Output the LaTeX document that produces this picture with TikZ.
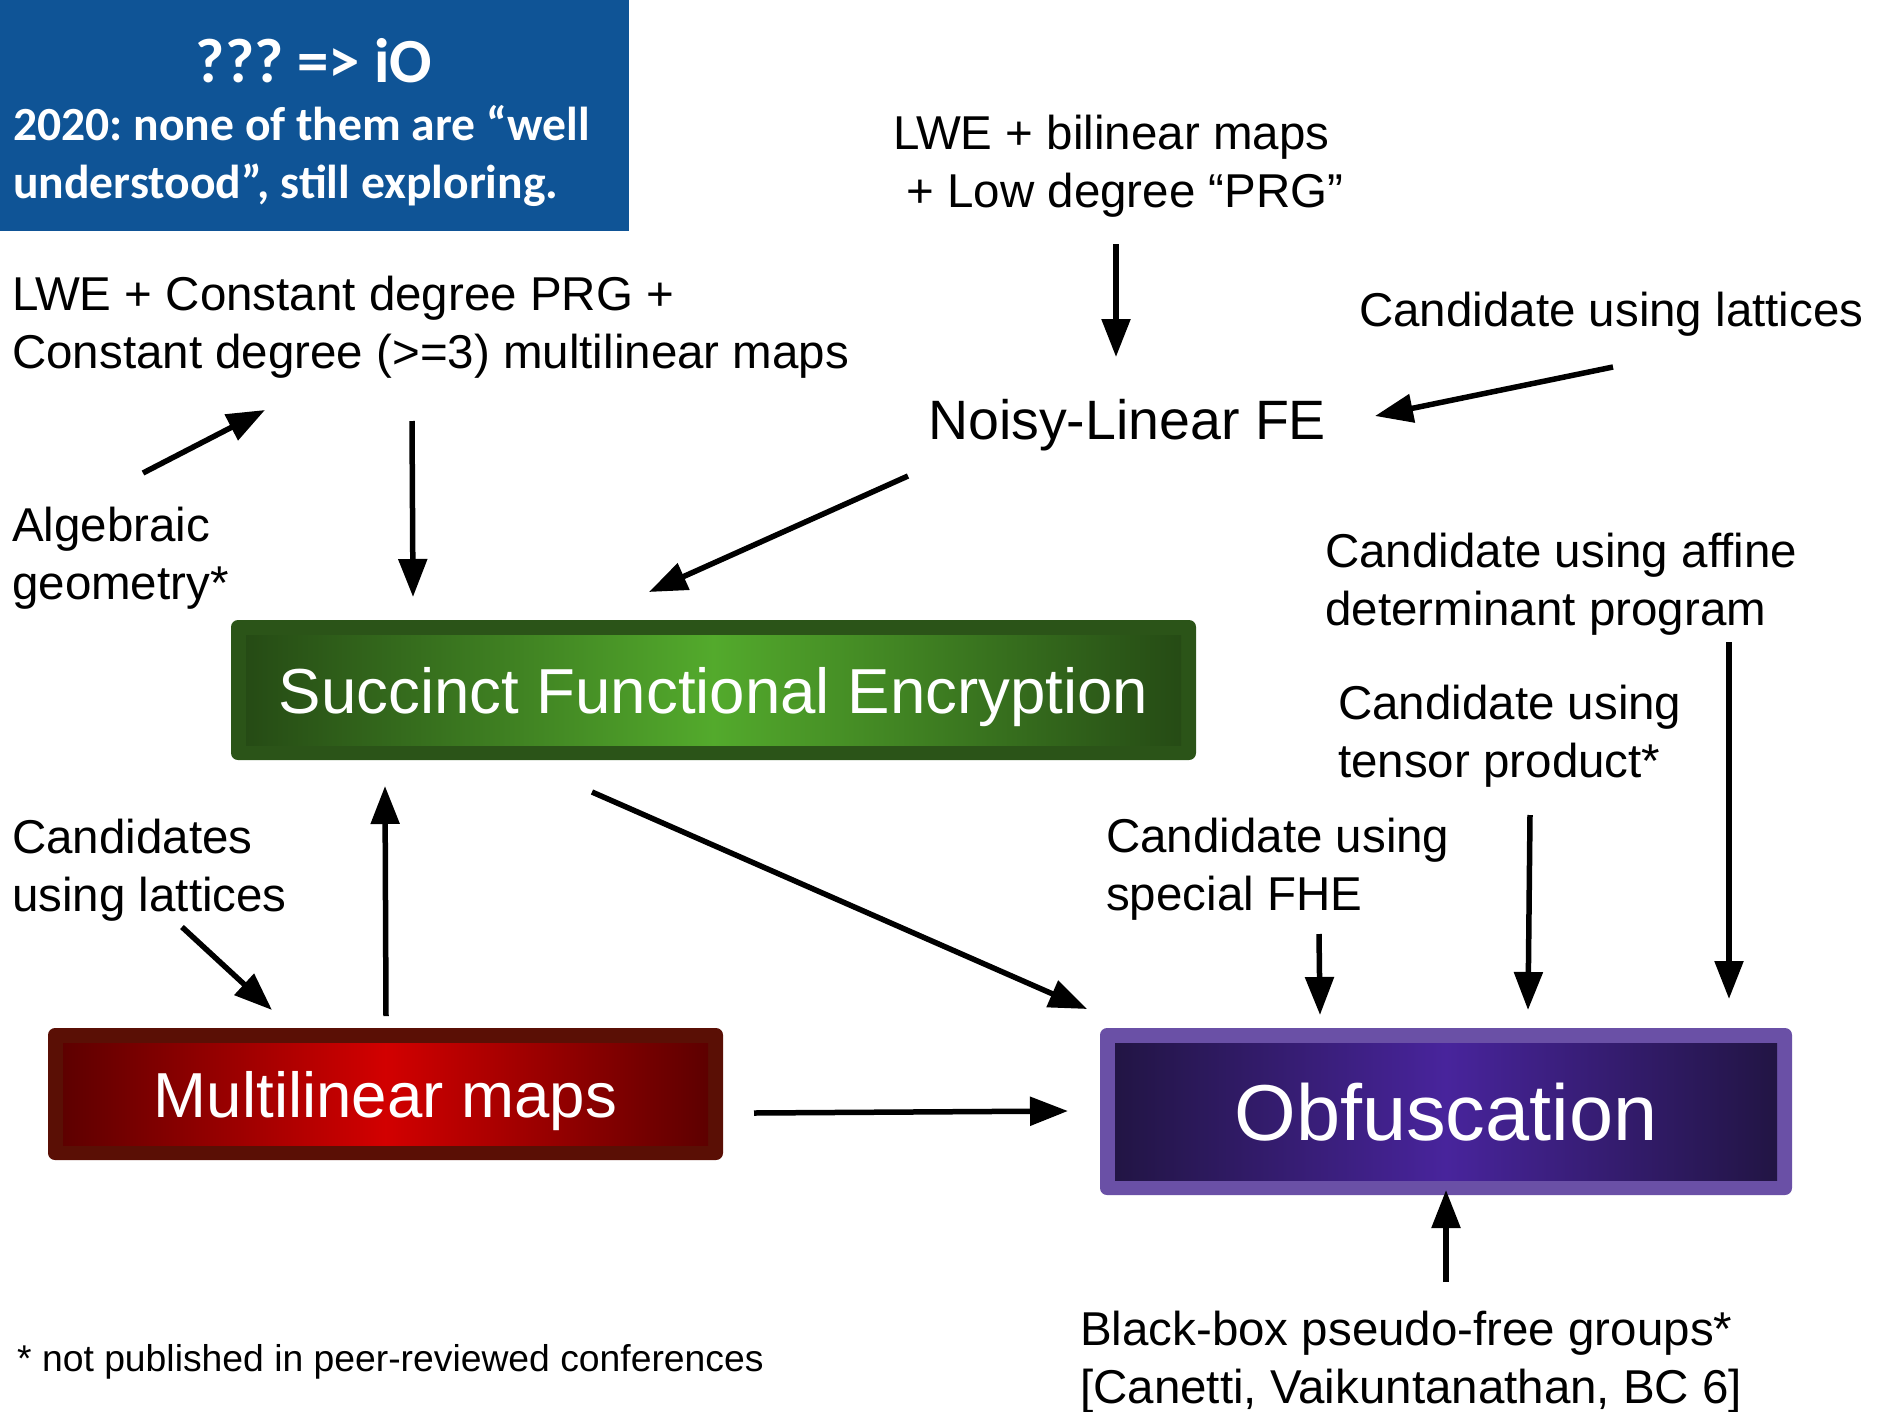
\documentclass[tikz,border=0pt]{standalone}
\usepackage{fontspec}
\setmainfont{Liberation Sans}
\newfontfamily\calibri{Carlito}
\usetikzlibrary{arrows.meta,calc}
\frenchspacing

\definecolor{ioblue}{HTML}{0F5496}
\definecolor{gborder}{HTML}{2B5418}
\definecolor{gedge}{HTML}{244814}
\definecolor{gmid}{HTML}{53AA2C}
\definecolor{rborder}{HTML}{5A0F05}
\definecolor{redge}{HTML}{580000}
\definecolor{rmid}{HTML}{D20000}
\definecolor{pborder}{HTML}{6A50A6}
\definecolor{pedge}{HTML}{201440}
\definecolor{pmid}{HTML}{48249C}

% edge-dark / centre-bright glows for the three main boxes
\pgfdeclarehorizontalshading{greenglow}{100bp}{color(0bp)=(gedge); color(25bp)=(gedge); color(50bp)=(gmid); color(75bp)=(gedge); color(100bp)=(gedge)}
\pgfdeclarehorizontalshading{redglow}{100bp}{color(0bp)=(redge); color(25bp)=(redge); color(50bp)=(rmid); color(75bp)=(redge); color(100bp)=(redge)}
\pgfdeclarehorizontalshading{purpleglow}{100bp}{color(0bp)=(pedge); color(25bp)=(pedge); color(50bp)=(pmid); color(75bp)=(pedge); color(100bp)=(pedge)}

\tikzset{
  % multi-line labels are placed by the baseline of their last line
  lbl/.style={font=\fontsize{47.5}{58}\selectfont, inner sep=0pt, align=left, anchor=base west},
  arr/.style={line width=5.5pt, -{Triangle[length=38pt,width=28pt]}},
  glowbox/.style 2 args={rectangle, rounded corners=7pt, fill=#1, inner sep=0pt, text=white,
    text depth=0pt,
    path picture={\shade[sharp corners, shading=#2]
      ([shift={(15pt,-15pt)}]path picture bounding box.north west) rectangle
      ([shift={(-15pt,15pt)}]path picture bounding box.south east);}},
}

\begin{document}
\begin{tikzpicture}[x=1pt,y=-1pt]
\useasboundingbox (0,0) rectangle (1879,1411);

% headline box
\node[fill=ioblue, minimum width=629pt, minimum height=231pt, inner sep=0pt, anchor=north west] (iobox) at (0,0) {};
\node[font=\calibri\bfseries\fontsize{62.8}{70}\selectfont, text=white, inner sep=0pt, anchor=base] (iotitle) at (314,82) {??? => iO};
\node[font=\calibri\bfseries\fontsize{47.6}{58}\selectfont, text=white, inner sep=0pt, align=left, anchor=base west] (ionote) at (13,198) {2020: none of them are “well\\understood”, still exploring.};

% assumption labels
\node[lbl] (lweb) at (893,207) {LWE + bilinear maps\\\ + Low degree “PRG”};
\node[lbl] (lwec) at (12,368) {LWE + Constant degree PRG +\\Constant degree (>=3) multilinear maps};
\node[lbl] (candlat) at (1359,326) {Candidate using lattices};
\node[lbl, font=\fontsize{55.5}{66}\selectfont] (noisy) at (928,439) {Noisy-Linear FE};
\node[lbl] (alg) at (12,599) {Algebraic\\geometry*};
\node[lbl] (affine) at (1325,625) {Candidate using affine\\determinant program};
\node[lbl] (tensor) at (1338,777) {Candidate using\\tensor product*};
\node[lbl] (mmlat) at (12,911) {Candidates\\using lattices};
\node[lbl] (fhe) at (1106,910) {Candidate using\\special FHE};
\node[lbl] (bbox) at (1080,1403) {Black-box pseudo-free groups*\\{[}Canetti, Vaikuntanathan, BC 6{]}};
\node[lbl, font=\fontsize{37.3}{45}\selectfont] (foot) at (17,1371) {* not published in peer-reviewed conferences};

% main boxes
\node[glowbox={gborder}{greenglow}, minimum width=965pt, minimum height=140pt, text height=46pt,
      font=\fontsize{63.6}{70}\selectfont] (sfe) at (713.5,690) {Succinct Functional Encryption};
\node[glowbox={rborder}{redglow}, minimum width=675pt, minimum height=132pt, text height=46pt,
      font=\fontsize{63.6}{70}\selectfont] (mmap) at (385.5,1094) {Multilinear maps};
\node[glowbox={pborder}{purpleglow}, minimum width=692pt, minimum height=167pt, text height=57pt,
      font=\fontsize{79.3}{88}\selectfont] (obf) at (1446,1111.5) {Obfuscation};

% connector end points
\coordinate (lweb-out) at (1116,244);
\coordinate (noisy-in1) at (1116,357);
\coordinate (candlat-out) at (1613,367);
\coordinate (noisy-in2) at (1375,416);
\coordinate (noisy-out) at (908,476);
\coordinate (sfe-in1) at (649,592);
\coordinate (lwec-out) at (412,421);
\coordinate (sfe-in2) at (413,597);
\coordinate (alg-out) at (143,473);
\coordinate (lwec-in) at (265,410);
\coordinate (mmap-out1) at (386,1016);
\coordinate (sfe-in3) at (385,786);
\coordinate (mmlat-out) at (182,927);
\coordinate (mmap-in) at (272,1010);
\coordinate (sfe-out) at (592,792);
\coordinate (obf-in1) at (1087,1009);
\coordinate (mmap-out2) at (754,1113);
\coordinate (obf-in2) at (1068,1111);
\coordinate (fhe-out) at (1319,934);
\coordinate (obf-in3) at (1320,1015);
\coordinate (tensor-out) at (1530,815);
\coordinate (obf-in4) at (1528,1010);
\coordinate (affine-out) at (1729,642);
\coordinate (obf-in5) at (1729,999);
\coordinate (bbox-out) at (1446,1282);
\coordinate (obf-in6) at (1446,1190);

% connectors
\draw[arr] (lweb-out) -- (noisy-in1);
\draw[arr] (candlat-out) -- (noisy-in2);
\draw[arr] (noisy-out) -- (sfe-in1);
\draw[arr] (lwec-out) -- (sfe-in2);
\draw[arr] (alg-out) -- (lwec-in);
\draw[arr] (mmap-out1) -- (sfe-in3);
\draw[arr] (mmlat-out) -- (mmap-in);
\draw[arr] (sfe-out) -- (obf-in1);
\draw[arr] (mmap-out2) -- (obf-in2);
\draw[arr] (fhe-out) -- (obf-in3);
\draw[arr] (tensor-out) -- (obf-in4);
\draw[arr] (affine-out) -- (obf-in5);
\draw[arr] (bbox-out) -- (obf-in6);
\end{tikzpicture}
\end{document}
